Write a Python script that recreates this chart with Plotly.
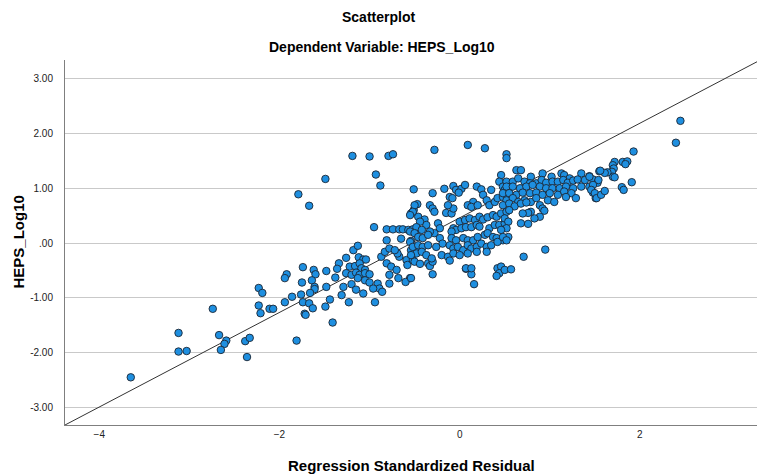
import plotly.graph_objects as go

# Regression standardized residual (x) vs HEPS_Log10 (y)
resid = [
    # lower-left tail
    -3.65, -3.12, -3.12, -3.03, -2.74, -2.67, -2.59, -2.61, -2.65, -2.38, -2.33, -2.36, -2.23, -2.21, -2.11, -2.07,
    -2.23, -2.19, -1.94, -1.92, -1.94, -1.86, -1.79, -1.67, -1.74, -1.62, -1.60, -1.75, -1.64, -1.61, -1.61, -1.76,
    -1.66, -1.74, -1.67, -1.63, -1.72, -1.71, -1.81,
    # around -1.5 .. -0.45
    -1.19, -1.00, -0.79, -0.74, -1.49, -0.93, -0.88, -0.51, -0.95,
    -0.81, -0.74, -0.67, -0.63, -0.57, -0.52, -0.47, -0.65, -0.54, -0.81,
    -0.54, -0.51, -0.47, -0.46, -1.18, -1.13, -1.26, -1.12, -1.07, -1.04,
    -1.34, -1.36, -1.38, -1.48, -1.22, -1.16, -1.11, -1.09, -1.05,
    -1.26, -1.20, -1.15, -1.11, -1.05, -1.00, -1.13, -1.05, -1.00,
    -1.29, -1.20, -1.15, -1.07, -1.31, -1.23, -1.48, -1.49, -1.44, -1.41, -0.94,
    -0.91, -0.89, -0.86, -0.96, -0.87, -0.83, -0.81, -0.76, -0.78, -0.70, -0.67, -0.69, -0.78, -0.72,
    -0.59, -0.58, -0.55, -0.60, -0.52, -0.48, -0.54, -0.78, -0.68,
    # around -0.55 .. 0.55
    -0.28, 0.09, 0.28, 0.52, 0.52, -0.30, -0.17, -0.07, -0.04, 0.02, 0.06, -0.01, -0.11, -0.08,
    0.19, 0.24, 0.26, 0.35, 0.46, 0.44, 0.48, 0.50,
    0.15, 0.09, 0.13, 0.20, 0.30, 0.33, 0.39, 0.42, 0.48, 0.52,
    -0.50, -0.52, -0.55, -0.33, -0.30, -0.28, -0.39, -0.37, -0.44, -0.48, -0.42,
    -0.24, -0.22, -0.28, -0.33, -0.15, -0.09, -0.07, -0.13,
    0.00, 0.06, 0.11, 0.17, 0.22, 0.26, 0.31, 0.37, 0.41, 0.46, 0.52,
    -0.07, -0.04, -0.09, 0.02, 0.07, 0.13, 0.19, 0.22, 0.33, 0.39, 0.44, 0.50,
    -0.55, -0.50, -0.46, -0.41, -0.35, -0.22, -0.19, -0.26,
    -0.09, -0.04, 0.04, 0.09, 0.15, 0.20, 0.28, 0.31, 0.37, 0.41, 0.48, 0.54,
    -0.55, -0.52, -0.46, -0.41, -0.35, -0.48, -0.42, -0.37, -0.54,
    -0.11, -0.07, -0.02, 0.04, 0.09, 0.13, 0.19, 0.24, 0.30, 0.35, 0.42,
    -0.20, -0.13, -0.07, 0.00, 0.09, 0.19, 0.30,
    -0.50, -0.44, -0.35, -0.33, -0.30, -0.31, -0.11, -0.54, -0.30,
    0.07, 0.13, 0.16, 0.42, 0.46, 0.44, 0.41, 0.07, 0.13,
    # around 0.5 .. 1.55
    0.63, 0.68, 0.92, 0.79, 1.02, 1.13, 1.16, 1.22, 1.35, 1.44, 1.55,
    0.52, 0.59, 0.65, 0.72, 0.78, 0.85, 0.91, 0.96, 1.03, 1.09, 1.15, 1.20, 1.26, 1.31, 1.39, 1.48, 1.53,
    0.52, 0.59, 0.67, 0.74, 0.81, 0.89, 0.96, 1.03, 1.11, 1.18, 1.26, 1.35, 1.44,
    0.48, 0.55, 0.63, 0.70, 0.78, 0.85, 0.92, 1.00, 1.09, 1.16, 1.24, 1.48,
    0.52, 0.59, 0.65, 0.72, 0.79, 0.85, 0.98, 1.05, 1.18, 1.29, 1.51,
    0.48, 0.55, 0.61, 0.55, 0.68, 0.74, 0.89, 0.92, 0.94, 0.89, 0.83, 0.79, 0.76, 0.70, 0.68, 0.76,
    0.50, 0.54, 0.52, 0.48, 0.52, 0.46, 0.95, 0.71, 0.50, 0.57,
    # upper-right tail
    2.45, 2.40, 1.93, 1.81, 1.86, 1.84, 1.72, 1.70, 1.71, 1.69, 1.70, 1.72,
    1.64, 1.61, 1.56, 1.91, 1.80, 1.82, 1.54, 1.48, 1.46, 1.50, 1.52, 1.57, 1.61, 1.44,
]
heps_log10 = [
    -2.45, -1.64, -1.98, -1.97, -1.20, -1.68, -1.78, -1.84, -1.95, -1.79, -1.73, -2.08, -1.14, -1.28, -1.20, -1.20,
    -0.82, -0.91, -1.08, -0.57, -0.64, -0.98, 0.89, 0.68, -0.44, -0.49, -0.57, -0.72, -0.68, -0.80, -0.84, -0.94,
    -0.91, -1.08, -1.10, -1.19, -1.29, -1.31, -1.78,
    1.59, 1.58, 1.59, 1.62, 1.17, 1.25, 1.05, 0.98, 0.29,
    0.25, 0.25, 0.25, 0.25, 0.24, 0.25, 0.26, 0.08, 0.04, 0.05,
    0.54, 0.60, 0.71, 0.48, -0.13, -0.05, -0.27, -0.26, -0.30, -0.30,
    -0.37, -0.47, -0.63, -0.51, -0.43, -0.42, -0.37, -0.46, -0.49,
    -0.55, -0.58, -0.54, -0.58, -0.55, -0.57, -0.64, -0.68, -0.72,
    -0.80, -0.75, -0.85, -0.92, -0.95, -1.08, -0.80, -1.16, -1.03, -1.45, -1.08,
    -0.74, -0.83, -0.89, -0.83, -0.25, -0.16, -0.37, -0.43, -0.58, -0.49, -0.25, -0.19, -0.10, -0.13,
    -0.31, -0.40, -0.64, -0.71, -0.31, -0.16, -0.13, -0.74, -0.64,
    1.70, 1.79, 1.73, 1.62, 1.55, 0.91, 0.99, 1.04, 0.97, 0.99, 1.06, 0.92, 0.84, 0.82,
    1.03, 0.98, 0.88, 0.97, 1.24, 1.12, 1.03, 0.97,
    0.75, 0.69, 0.66, 0.69, 0.78, 0.69, 0.75, 0.82, 0.84, 0.88,
    0.69, 0.57, 0.51, 0.69, 0.63, 0.57, 0.43, 0.33, 0.39, 0.29, 0.24,
    0.36, 0.27, 0.18, 0.21, 0.55, 0.54, 0.63, 0.69,
    0.39, 0.42, 0.45, 0.42, 0.48, 0.43, 0.47, 0.51, 0.48, 0.54, 0.57,
    0.27, 0.24, 0.21, 0.27, 0.29, 0.29, 0.33, 0.30, 0.27, 0.33, 0.33, 0.36,
    0.21, 0.18, 0.11, 0.09, 0.15, 0.09, -0.01, -0.07,
    0.09, 0.05, 0.09, 0.05, 0.05, 0.11, 0.15, 0.18, 0.11, 0.09, 0.05, 0.11,
    0.02, -0.07, -0.04, -0.07, -0.04, -0.19, -0.16, -0.22, -0.22,
    -0.04, -0.10, -0.07, -0.13, -0.04, -0.10, -0.07, -0.01, -0.07, -0.04, 0.02,
    -0.22, -0.25, -0.19, -0.22, -0.19, -0.16, -0.16,
    -0.34, -0.38, -0.37, -0.42, -0.34, -0.28, -0.32, -0.64, -0.57,
    -0.47, -0.57, -0.75, -0.46, -0.43, -0.55, -0.60, -0.46, -0.46,
    1.33, 1.33, 1.27, 1.21, 1.21, 1.27, 1.24, 1.18, 1.27, 1.22, 1.31,
    1.12, 1.12, 1.18, 1.12, 1.09, 1.09, 1.15, 1.10, 1.12, 1.12, 1.15, 1.10, 1.14, 1.16, 1.15, 1.16, 1.10,
    1.03, 1.03, 1.00, 1.03, 1.06, 1.03, 1.00, 1.00, 1.00, 1.03, 1.00, 1.03, 1.03,
    0.91, 0.91, 0.88, 0.92, 0.91, 0.92, 0.88, 0.91, 0.88, 0.94, 0.91, 0.92,
    0.78, 0.82, 0.75, 0.78, 0.75, 0.82, 0.78, 0.75, 0.84, 0.82, 0.82,
    0.69, 0.72, 0.67, 0.60, 0.72, 0.74, 0.69, 0.63, 0.59, 0.48, 0.45, 0.57, 0.55, 0.54, 0.36, 0.35,
    0.45, 0.39, 0.27, 0.11, 0.05, 0.24, -0.12, -0.25, -0.49, -0.48,
    2.23, 1.83, 1.67, 1.48, 1.49, 1.44, 1.48, 1.42, 1.36, 1.30, 1.21, 1.20,
    1.29, 1.28, 1.32, 1.11, 1.02, 0.97, 1.15, 1.06, 0.97, 0.91, 0.82, 0.88, 0.95, 1.21,
]

fit_intercept = 0.46
fit_slope = 0.863

x_ticks = [-4, -2, 0, 2]
y_ticks = [-3, -2, -1, 0, 1, 2, 3]
y_tick_labels = ["-3.00", "-2.00", "-1.00", ".00", "1.00", "2.00", "3.00"]

x_range = [-4.38, 3.30]
y_range = [-3.32, 3.34]

FONT = "Arial, 'Liberation Sans', sans-serif"

fig = go.Figure()

line_x = x_range
line_y = [fit_intercept + fit_slope * v for v in line_x]
fig.add_trace(go.Scatter(
    x=line_x, y=line_y, mode="lines",
    line=dict(color="#333333", width=1), hoverinfo="skip",
))

fig.add_trace(go.Scatter(
    x=resid, y=heps_log10, mode="markers",
    marker=dict(size=7.5, color="#1E8FE0", line=dict(color="#1c2633", width=0.9)),
))

fig.update_layout(
    width=757, height=475,
    margin=dict(l=65, r=0, t=60, b=50),
    plot_bgcolor="white", paper_bgcolor="white",
    showlegend=False,
    font=dict(family=FONT, color="black"),
    xaxis=dict(
        range=x_range, tickvals=x_ticks, showgrid=False, zeroline=False,
        showline=True, linecolor="#7f7f7f", linewidth=1,
        tickfont=dict(size=10, color="#222222"), ticks="",
    ),
    yaxis=dict(
        range=y_range, tickvals=y_ticks, ticktext=y_tick_labels,
        showgrid=True, gridcolor="#c9c9c9", gridwidth=1, zeroline=False,
        showline=True, linecolor="#7f7f7f", linewidth=1,
        tickfont=dict(size=10, color="#222222"), ticks="", ticklabelstandoff=9,
    ),
    annotations=[
        dict(text="<b>Scatterplot</b>", xref="paper", yref="paper",
             x=(378 - 65) / 692, y=(425 - 17) / 365, showarrow=False,
             xanchor="center", yanchor="middle", font=dict(size=14)),
        dict(text="<b>Dependent Variable: HEPS_Log10</b>", xref="paper", yref="paper",
             x=(382 - 65) / 692, y=(425 - 47) / 365, showarrow=False,
             xanchor="center", yanchor="middle", font=dict(size=14)),
        dict(text="<b>Regression Standardized Residual</b>", xref="paper", yref="paper",
             x=0.5, y=(425 - 465) / 365, showarrow=False,
             xanchor="center", yanchor="middle", font=dict(size=15)),
        dict(text="<b>HEPS_Log10</b>", xref="paper", yref="paper",
             x=(18 - 65) / 692, y=0.5, showarrow=False, textangle=-90,
             xanchor="center", yanchor="middle", font=dict(size=15)),
    ],
)

fig.write_html("out.html")
